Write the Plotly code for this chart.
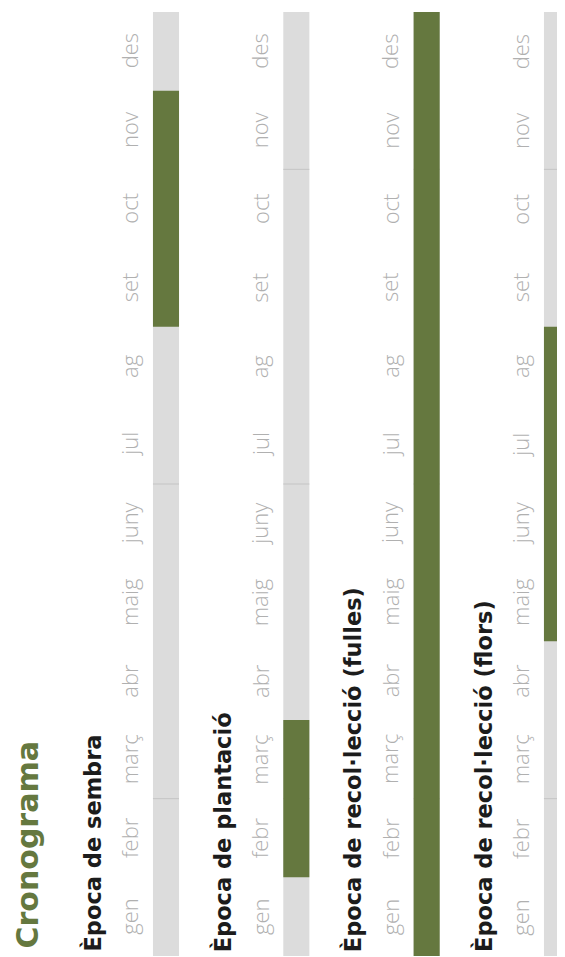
import plotly.graph_objects as go

# ---- data ----
months = ['gen', 'febr', 'març', 'abr', 'maig', 'juny', 'jul', 'ag', 'set', 'oct', 'nov', 'des']
sections = ['Època de sembra', 'Època de plantació',
            'Època de recol·lecció (fulles)', 'Època de recol·lecció (flors)']
start_month = [9, 2, 1, 5]     # first active month (1-based)
end_month = [11, 3, 12, 8]     # last active month (1-based)
separators = [2, 6, 10]        # month boundaries with a divider line
title = 'Cronograma'

GREEN = '#65783f'
GRAY = '#dcdcdc'
LINE = '#c4c4c4'
LABEL = '#b0b0b0'
DARK = '#1c1c1c'

xs = list(range(len(sections)))
n = len(months)
BW = 0.2

fig = go.Figure()

# background gray strips (full year)
fig.add_trace(go.Bar(x=xs, y=[n] * len(xs), base=[0] * len(xs), width=BW,
                     marker=dict(color=GRAY, line=dict(width=0)),
                     hoverinfo='skip', showlegend=False))

# divider lines over gray strips
for s in separators:
    for i in xs:
        fig.add_trace(go.Scatter(x=[i - BW / 2, i + BW / 2], y=[s, s], mode='lines',
                                 line=dict(color=LINE, width=1),
                                 hoverinfo='skip', showlegend=False))

# active period (green), on an overlaying axis so it sits on top
fig.add_trace(go.Bar(x=xs, y=[e - s + 1 for s, e in zip(start_month, end_month)],
                     base=[s - 1 for s in start_month], width=BW,
                     marker=dict(color=GREEN, line=dict(width=0)),
                     yaxis='y2', hoverinfo='skip', showlegend=False))

W, H = 557, 949
YR = [-0.0127, 12.0508]
XR = [-1.2123, 3.0615]

fig.update_layout(
    width=W, height=H,
    margin=dict(l=0, r=0, t=0, b=0),
    paper_bgcolor='white', plot_bgcolor='white',
    barmode='overlay',
    xaxis=dict(range=XR, visible=False, fixedrange=True),
    yaxis=dict(range=YR, visible=False, fixedrange=True),
    yaxis2=dict(range=YR, visible=False, overlaying='y', fixedrange=True),
)

ann = []
# title
ann.append(dict(text='<b>' + title + '</b>', xref='x', yref='paper', x=0, xshift=-139,
                y=0, yshift=6, xanchor='center', yanchor='bottom', textangle=-90,
                showarrow=False, font=dict(family='DejaVu Sans', size=30, color=GREEN)))
for i, name in enumerate(sections):
    ann.append(dict(text='<b>' + name + '</b>', xref='x', yref='paper', x=i, xshift=-74,
                    y=0, yshift=3, xanchor='center', yanchor='bottom', textangle=-90,
                    showarrow=False, font=dict(family='DejaVu Sans', size=22.5, color=DARK)))
    for m, lab in enumerate(months):
        ann.append(dict(text=lab, xref='x', yref='y', x=i, xshift=-37, y=m + 0.5,
                        xanchor='center', yanchor='middle', textangle=-90, showarrow=False,
                        font=dict(family='Open Sans', size=22, color=LABEL, weight=300)))
fig.update_layout(annotations=ann)

fig.write_html('out.html')
